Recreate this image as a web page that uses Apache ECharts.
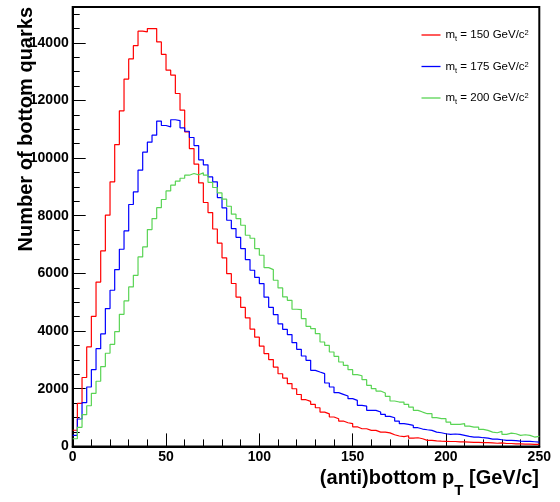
<!DOCTYPE html>
<html>
<head>
<meta charset="utf-8">
<script src="https://cdn.jsdelivr.net/npm/echarts@6/dist/echarts.min.js"></script>
<style>
  html, body { margin: 0; padding: 0; background: #fff; }
  #chart { width: 560px; height: 502px; }
</style>
</head>
<body>
<div id="chart"></div>
<script>
// ---- data ----
const binWidth = 2.5; // GeV
const masses = [150, 175, 200];
const xTicks = [0, 50, 100, 150, 200, 250];
const yTicks = [0, 2000, 4000, 6000, 8000, 10000, 12000, 14000];

const red = [
  560, 1490, 2390, 3450, 4510, 5700, 6780, 8020, 9175, 10470,
  11640, 12740, 13440, 13900, 14400, 14380, 14490, 14490, 14030, 13600,
  13050, 12880, 12240, 11660, 10910, 10330, 9790, 9140, 8460, 8110,
  7540, 7050, 6540, 5990, 5650, 5180, 4820, 4460, 4070, 3790,
  3480, 3220, 3010, 2750, 2520, 2370, 2180, 2000, 1800, 1620,
  1560, 1460, 1340, 1190, 1130, 1020, 960, 880, 820, 790,
  680, 613, 613, 555, 555, 497, 497, 470, 405, 360,
  340, 370, 290, 300, 266, 208, 208, 190, 180, 175,
  170, 170, 160, 160, 150, 140, 140, 130, 130, 120,
  110, 120, 100, 100, 90, 90, 80, 80, 70, 70
];
const blue = [
  382, 950, 1516, 2060, 2661, 3390, 3900, 4779, 5415, 6133,
  6838, 7474, 8390, 8827, 9580, 10205, 10550, 10795, 11285, 11130,
  11080, 11330, 11300, 11049, 10930, 10714, 10435, 9940, 9765, 9348,
  9175, 8630, 8272, 7844, 7556, 7250, 6862, 6480, 6109, 5860,
  5647, 5175, 4825, 4571, 4250, 4061, 3877, 3599, 3367, 3136,
  2985, 2638, 2580, 2523, 2199, 2060, 1864, 1805, 1746, 1656,
  1597, 1423, 1400, 1250, 1250, 1191, 1111, 1041, 995, 879,
  787, 764, 729, 648, 602, 578, 555, 497, 474, 439,
  416, 430, 416, 382, 347, 324, 324, 301, 289, 255,
  255, 231, 208, 208, 197, 185, 174, 174, 162, 150
];
const green = [
  266, 660, 1099, 1410, 1840, 2260, 2770, 3230, 3540, 3980,
  4582, 5044, 5530, 5935, 6571, 6918, 7522, 7903, 8280, 8563,
  8860, 9059, 9200, 9300, 9406, 9464, 9420, 9487, 9406, 9160,
  8979, 8792, 8573, 8330, 8053, 7903, 7671, 7324, 7220, 6862,
  6630, 6202, 6133, 5762, 5495, 5183, 5068, 4756, 4744, 4432,
  4165, 4085, 3911, 3621, 3506, 3274, 3124, 2927, 2812, 2661,
  2488, 2450, 2315, 2117, 2003, 1920, 1851, 1736, 1574, 1539,
  1539, 1458, 1365, 1250, 1191, 1134, 1134, 995, 961, 961,
  845, 764, 764, 787, 706, 671, 671, 590, 555, 497,
  474, 520, 416, 463, 439, 382, 405, 382, 324, 347
];
const seriesValues = [red, blue, green];
const colors = ['#ff0000', '#0000ff', '#59d454'];

// ---- build ----
function toSteps(vals) {
  const pts = vals.map((v, i) => [i * binWidth, v]);
  pts.push([vals.length * binWidth, vals[vals.length - 1]]);
  return pts;
}
const FONT = '"Liberation Sans", Arial, Helvetica, sans-serif';
const xMax = xTicks[xTicks.length - 1];
const yMax = 15240;

const chart = echarts.init(document.getElementById('chart'), null, { renderer: 'canvas' });
chart.setOption({
  animation: false,
  backgroundColor: '#ffffff',
  grid: {
    left: 72.7, right: 20.7, top: 7, bottom: 55.6,
    show: true, borderColor: '#000', borderWidth: 2, backgroundColor: 'transparent'
  },
  legend: {
    orient: 'vertical',
    left: 421.5, top: 28,
    icon: 'rect',
    itemWidth: 19, itemHeight: 1.3, itemGap: 16.5,
    padding: 0,
    data: masses.map(m => 'mt' + m),
    formatter: name => '{a|m}{s|t}{a| = ' + name.slice(2) + ' GeV/c}{p|2}',
    textStyle: {
      color: '#000',
      rich: {
        a: { fontSize: 11.5, fontFamily: FONT, color: '#000', lineHeight: 14 },
        s: { fontSize: 7.5, fontFamily: FONT, color: '#000', lineHeight: 14, verticalAlign: 'top', padding: [7, 0, 0, 0] },
        p: { fontSize: 7.5, fontFamily: FONT, color: '#000', lineHeight: 14, verticalAlign: 'top', padding: [1, 0, 0, 0] }
      }
    }
  },
  xAxis: {
    type: 'value', min: xTicks[0], max: xMax, interval: 50,
    axisLine: { show: true, onZero: false, lineStyle: { color: '#000', width: 2 } },
    axisTick: { show: true, inside: true, length: 13, lineStyle: { color: '#000', width: 1 } },
    minorTick: { show: true, splitNumber: 5, length: 7, lineStyle: { color: '#000', width: 1 } },
    splitLine: { show: false },
    axisLabel: { color: '#000', fontSize: 14, fontWeight: 'bold', fontFamily: FONT, margin: 4,
      formatter: v => xTicks.includes(v) ? String(v) : '' }
  },
  yAxis: [{
    type: 'value', min: 0, max: yMax, interval: 2000,
    axisLine: { show: true, onZero: false, lineStyle: { color: '#000', width: 2 } },
    axisTick: { show: true, inside: true, length: 13, lineStyle: { color: '#000', width: 1 } },
    splitLine: { show: false },
    axisLabel: { color: '#000', fontSize: 14, fontWeight: 'bold', fontFamily: FONT, margin: 4,
      showMaxLabel: false,
      formatter: v => yTicks.includes(v) ? String(v) : '' }
  }, {
    type: 'value', min: 0, max: yMax, interval: 500, position: 'left',
    axisLine: { show: false },
    axisTick: { show: true, inside: true, length: 7, lineStyle: { color: '#000', width: 1 } },
    splitLine: { show: false },
    axisLabel: { show: false }
  }],
  series: seriesValues.map((vals, k) => ({
    name: 'mt' + masses[k],
    type: 'line',
    step: 'end',
    symbol: 'none',
    yAxisIndex: 0,
    data: toSteps(vals),
    lineStyle: { color: colors[k], width: 1.2 },
    itemStyle: { color: colors[k] }
  })),
  graphic: [
    {
      type: 'text', x: 26, y: 7, rotation: Math.PI / 2,
      style: { text: 'Number of bottom quarks', align: 'right', verticalAlign: 'middle',
        font: 'bold 20px ' + FONT, fill: '#000' }
    },
    {
      type: 'text', x: 539, y: 468,
      style: {
        text: '{a|(anti)bottom p}{s|T}{a| [GeV/c]}',
        align: 'right', verticalAlign: 'top', fill: '#000',
        rich: {
          a: { fontSize: 20, fontWeight: 'bold', fontFamily: FONT, fill: '#000', lineHeight: 24, verticalAlign: 'top' },
          s: { fontSize: 15, fontWeight: 'bold', fontFamily: FONT, fill: '#000', lineHeight: 24, verticalAlign: 'top', padding: [15, 0, 0, 0] }
        }
      }
    }
  ]
});
</script>
</body>
</html>
